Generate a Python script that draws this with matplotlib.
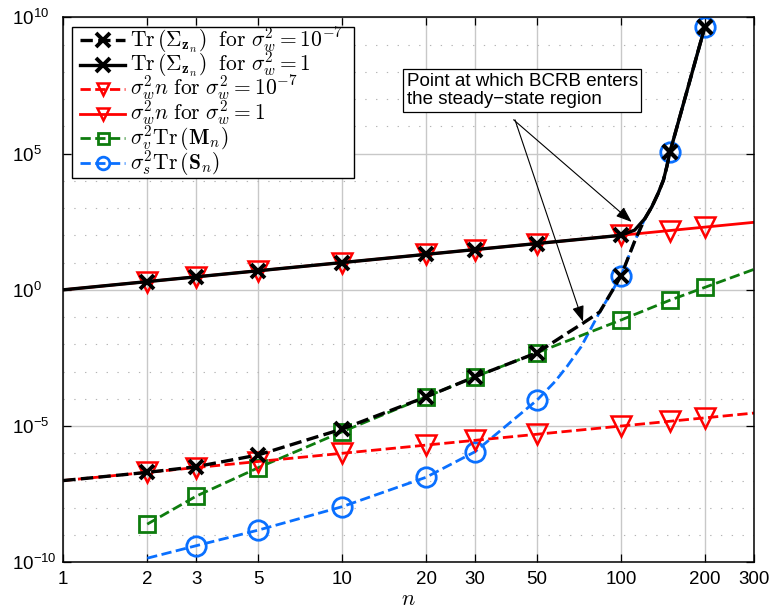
import numpy as np
import matplotlib
matplotlib.use('Agg')
import matplotlib.pyplot as plt
from matplotlib.lines import Line2D
from matplotlib.patches import Rectangle
from matplotlib.ticker import FixedLocator, NullLocator, LogLocator, NullFormatter

plt.rcParams['font.family'] = ['Liberation Sans', 'DejaVu Sans']
plt.rcParams['mathtext.fontset'] = 'custom'
plt.rcParams['mathtext.rm'] = 'Liberation Sans'
plt.rcParams['mathtext.it'] = 'Liberation Sans:italic'
plt.rcParams['mathtext.bf'] = 'Liberation Sans:bold'

# values (y given as log10)
# Tr(Sigma_z) for sigma_w^2 = 1e-7 (black dashed)
n_bd = np.array([1, 2, 3, 5, 10, 20, 30, 50, 64, 73, 84, 100, 112, 122, 129, 136, 142, 146, 150, 200])
y_bd = np.array([-7.0, -6.70, -6.49, -6.06, -5.11, -3.93, -3.19, -2.31, -1.60, -1.23, -0.81, 0.50,
                 1.78, 2.62, 3.04, 3.54, 4.02, 4.51, 5.06, 9.65])
mk_bd = [1, 2, 3, 4, 5, 6, 7, 11, 18, 19]

# Tr(Sigma_z) for sigma_w^2 = 1 (black solid)
n_bs = np.array([1, 2, 3, 5, 10, 20, 30, 50, 100, 112, 122, 129, 136, 142, 146, 150, 200])
y_bs = np.array([0.0, 0.301, 0.477, 0.699, 1.0, 1.301, 1.477, 1.699, 2.0, 2.19, 2.62, 3.04, 3.54,
                 4.02, 4.51, 5.06, 9.65])
mk_bs = [1, 2, 3, 4, 5, 6, 7, 8, 15, 16]

# sigma_w^2 n (red)
n_red = np.array([1, 2, 3, 5, 10, 20, 30, 50, 100, 150, 200, 300])
y_red_lo = np.array([1e-7, 2e-7, 3e-7, 5e-7, 1e-6, 2e-6, 3e-6, 5e-6, 1e-5, 1.5e-5, 2e-5, 3e-5])
y_red_hi = np.array([1, 2, 3, 5, 10, 20, 30, 50, 100, 150, 200, 300])
mk_red = [1, 2, 3, 4, 5, 6, 7, 8, 9, 10]

# sigma_v^2 Tr(M_n) (green)
n_g = np.array([2, 3, 5, 10, 20, 30, 50, 100, 150, 200, 300])
y_g = np.array([-8.60, -7.57, -6.53, -5.21, -3.93, -3.19, -2.31, -1.11, -0.38, 0.09, 0.75])
mk_g = [0, 1, 2, 3, 4, 5, 6, 7, 8, 9]

# sigma_s^2 Tr(S_n) (blue)
n_b = np.array([2, 3, 5, 10, 20, 30, 50, 58, 64, 72, 84, 100, 112, 122, 129, 136, 142, 146, 150, 200])
y_b = np.array([-9.85, -9.39, -8.82, -7.96, -6.88, -5.94, -4.05, -3.37, -2.82, -2.09, -0.81, 0.50,
                1.78, 2.62, 3.04, 3.54, 4.02, 4.51, 5.06, 9.65])
mk_b = [1, 2, 3, 4, 5, 6, 11, 18, 19]

labels = [
    r'$\mathrm{Tr}\,(\mathbf{\Sigma}_{\mathbf{z}_n})\ \ \mathrm{for}\ \sigma_w^2=10^{-7}$',
    r'$\mathrm{Tr}\,(\mathbf{\Sigma}_{\mathbf{z}_n})\ \ \mathrm{for}\ \sigma_w^2=1$',
    r'$\sigma_w^2 n\ \mathrm{for}\ \sigma_w^2=10^{-7}$',
    r'$\sigma_w^2 n\ \mathrm{for}\ \sigma_w^2=1$',
    r'$\sigma_v^2\mathrm{Tr}\,(\mathbf{M}_n)$',
    r'$\sigma_s^2\mathrm{Tr}\,(\mathbf{S}_n)$',
]
x_ticks = [1, 2, 3, 5, 10, 20, 30, 50, 100, 200, 300]
y_ticks = [1e-10, 1e-5, 1e0, 1e5, 1e10]
y_ticklabels = [r'$10^{-10}$', r'$10^{-5}$', r'$10^{0}$', r'$10^{5}$', r'$10^{10}$']

RED = '#ff0000'
GREEN = '#0e7c0e'
BLUE = '#0a70ff'

fig = plt.figure(figsize=(7.72, 6.10), dpi=100)
ax = fig.add_axes([0.0820, 0.0782, 0.8946, 0.8934])
ax.set_xscale('log')
ax.set_yscale('log')

# style of each series, in legend order
styles = [
    dict(ls='--', color='black', lw=2.4, marker='x', ms=10, mew=2.8),
    dict(ls='-', color='black', lw=2.4, marker='x', ms=10, mew=2.8),
    dict(ls='--', color=RED, lw=2, marker='v', ms=15, mfc='none', mew=1.8),
    dict(ls='-', color=RED, lw=2, marker='v', ms=15, mfc='none', mew=1.8),
    dict(ls='--', color=GREEN, lw=2, marker='s', ms=11, mfc='none', mew=2),
    dict(ls='--', color=BLUE, lw=2, marker='o', ms=14, mfc='none', mew=2),
]

ax.plot(n_b, 10.0 ** y_b, markevery=mk_b, zorder=2.0, **styles[5])
ax.plot(n_g, 10.0 ** y_g, markevery=mk_g, zorder=2.1, **styles[4])
ax.plot(n_red, y_red_lo, markevery=mk_red, zorder=2.2, **styles[2])
ax.plot(n_red, y_red_hi, markevery=mk_red, zorder=2.2, **styles[3])
ax.plot(n_bs, 10.0 ** y_bs, markevery=mk_bs, zorder=2.5, **styles[1])
ax.plot(n_bd, 10.0 ** y_bd, markevery=mk_bd, zorder=2.6, **styles[0])

ax.set_xlim(1, 300)
ax.set_ylim(1e-10, 1e10)
ax.xaxis.set_major_locator(FixedLocator(x_ticks))
ax.xaxis.set_minor_locator(NullLocator())
ax.set_xticklabels([str(t) for t in x_ticks])
ax.yaxis.set_major_locator(FixedLocator(y_ticks))
ax.yaxis.set_minor_locator(LogLocator(base=10, subs=(1.0,), numticks=50))
ax.yaxis.set_minor_formatter(NullFormatter())
ax.set_yticklabels(y_ticklabels)

ax.set_axisbelow(True)
ax.grid(True, which='major', color='#c8c8c8', lw=1.0, ls='-')
ax.yaxis.grid(True, which='minor', color='#b4b4b4', lw=0.8, ls=(0, (1.2, 8.5)))
ax.tick_params(which='major', direction='in', length=6, width=0.9, top=True, right=True,
               labelsize=13.5)
ax.tick_params(axis='x', which='major', pad=6)
ax.tick_params(axis='y', which='major', pad=37)
ax.tick_params(which='minor', length=0)
for lbl in ax.get_yticklabels():
    lbl.set_horizontalalignment('left')
for sp in ax.spines.values():
    sp.set_linewidth(1.1)

ax.set_xlabel('$n$', math_fontfamily='cm', fontsize=16, labelpad=1)

# legend drawn by hand so the rows are evenly spaced (pixel layout -> axes fraction)
def fx(px):
    return (px - 63.3) / 690.6

def fy(py):
    return 1 - (py - 17.3) / 545.0

ax.add_patch(Rectangle((fx(71.7), fy(177.7)), fx(354) - fx(71.7), fy(26.7) - fy(177.7),
                       transform=ax.transAxes, fc='white', ec='black', lw=1.0, zorder=4,
                       clip_on=False))
legend_scale = [1.0, 1.0, 0.62, 0.62, 0.72, 0.65]
for i, (lab, st) in enumerate(zip(labels, styles)):
    yc = 40 + 24.6 * i
    st = dict(st)
    st['ms'] = st['ms'] * legend_scale[i]
    ax.add_line(Line2D([fx(80), fx(102.5), fx(125)], [fy(yc)] * 3, transform=ax.transAxes,
                       markevery=[1], zorder=5, clip_on=False, **st))
    ax.text(fx(130), fy(yc + 6), lab, transform=ax.transAxes, ha='left', va='baseline',
            fontsize=15.5, math_fontfamily='cm', zorder=6)

# annotation
ax.text(0.497, 0.898, 'Point at which BCRB enters\nthe steady\u2212state region',
        transform=ax.transAxes, ha='left', va='top', fontsize=13.5, linespacing=1.1,
        bbox=dict(boxstyle='square,pad=0.2', fc='white', ec='black', lw=0.9), zorder=5)
arrow = dict(arrowstyle='-|>,head_length=0.8,head_width=0.3', color='black', lw=0.8,
             mutation_scale=12, shrinkA=0, shrinkB=0)
ax.annotate('', xy=(109.3, 10 ** 2.49), xytext=(0.652, 0.812), textcoords='axes fraction',
            arrowprops=arrow, zorder=5)
ax.annotate('', xy=(73.1, 10 ** -1.17), xytext=(0.654, 0.812), textcoords='axes fraction',
            arrowprops=arrow, zorder=5)

fig.savefig('out.png', dpi=100)
